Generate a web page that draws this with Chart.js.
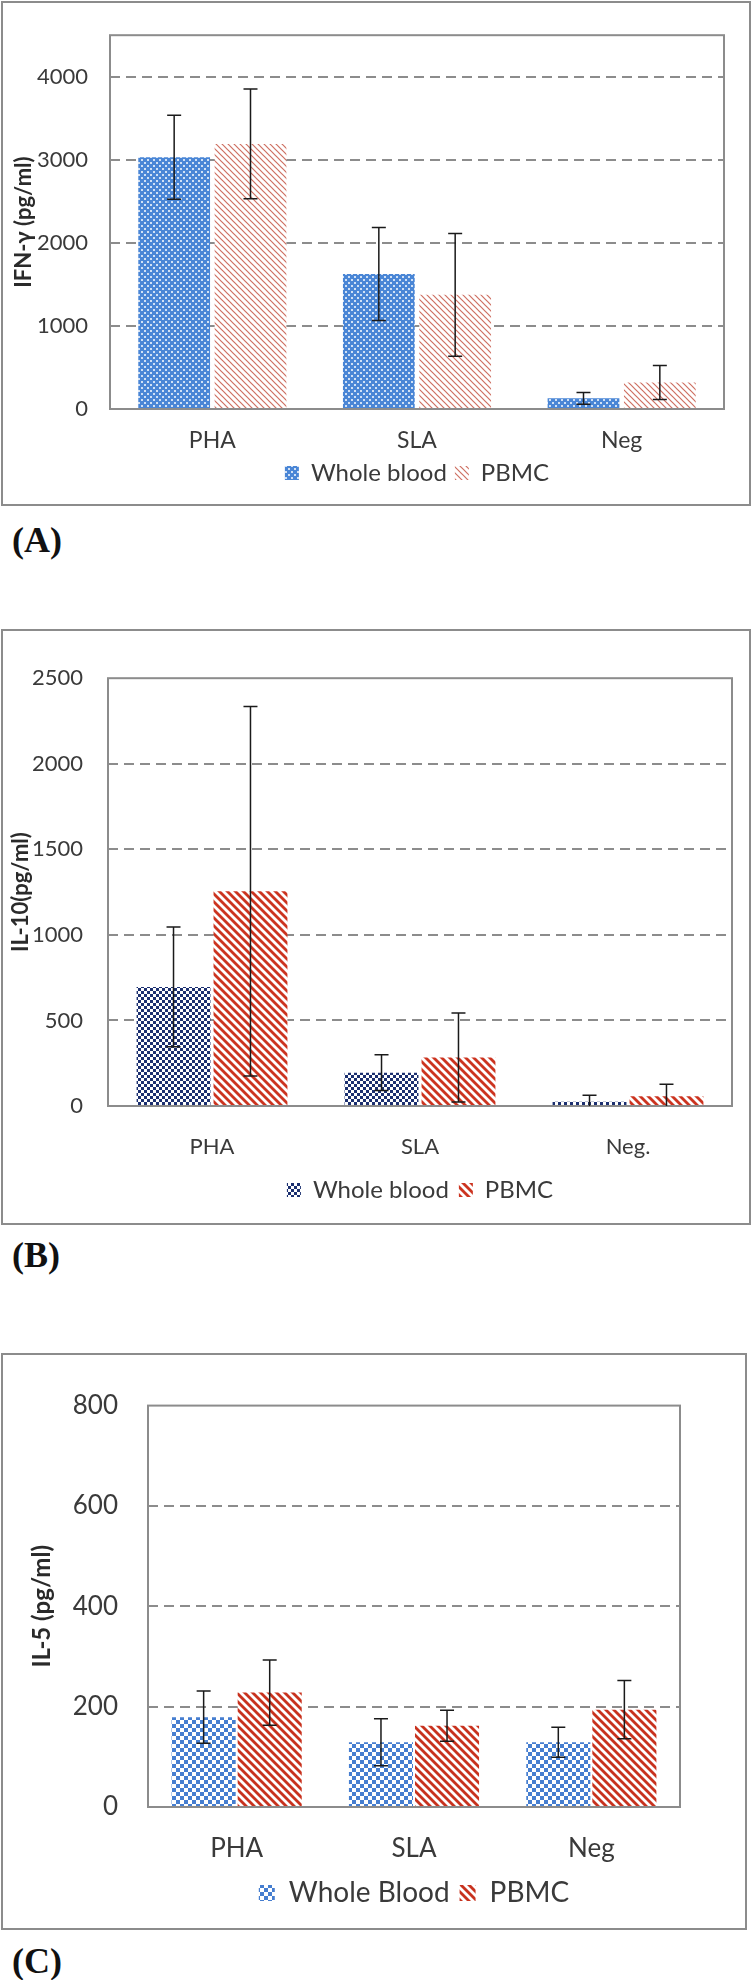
<!DOCTYPE html>
<html><head><meta charset="utf-8">
<script src="https://cdn.jsdelivr.net/npm/chart.js@4.4.1/dist/chart.umd.min.js"></script>
<style>
html,body{margin:0;padding:0;background:#fff;}
body{width:752px;height:1980px;position:relative;overflow:hidden;}
.frame{position:absolute;border:2px solid #8c8c8c;box-sizing:border-box;}
canvas{position:absolute;left:0;}
.lab{position:absolute;left:12px;font-family:"Liberation Serif","Times New Roman",serif;font-weight:bold;font-size:36px;line-height:40px;color:#111;}
</style></head><body>
<div class="frame" style="left:1px;top:1px;width:750px;height:505px"></div>
<div class="frame" style="left:1px;top:629px;width:750px;height:596px"></div>
<div class="frame" style="left:1px;top:1353px;width:746px;height:577px"></div>
<canvas id="cA" width="752" height="500" style="top:0px"></canvas>
<canvas id="cB" width="752" height="580" style="top:640px"></canvas>
<canvas id="cC" width="752" height="565" style="top:1360px"></canvas>
<div class="lab" style="top:520px">(A)</div>
<div class="lab" style="top:1235px">(B)</div>
<div class="lab" style="top:1941px">(C)</div>
<script>
// ---------- data ----------
const categoriesA = ['PHA', 'SLA', 'Neg'];
const categoriesB = ['PHA', 'SLA', 'Neg.'];
const categoriesC = ['PHA', 'SLA', 'Neg'];
const seriesNamesA = ['Whole blood', 'PBMC'];
const seriesNamesB = ['Whole blood', 'PBMC'];
const seriesNamesC = ['Whole Blood', 'PBMC'];

const ifnWhole = [3030, 1626, 128];
const ifnWholeErr = [505, 560, 70];
const ifnPbmc = [3191, 1374, 319];
const ifnPbmcErr = [660, 740, 205];

const il10Whole = [696, 195, 25];
const il10WholeErr = [350, 105, 38];
const il10Pbmc = [1255, 283, 57];
const il10PbmcErr = [1080, 260, 70];

const il5Whole = [179, 129, 129];
const il5WholeErr = [52, 47, 30];
const il5Pbmc = [228, 162, 194];
const il5PbmcErr = [65, 31, 58];

const ticksA = [0, 1000, 2000, 3000, 4000];
const ticksB = [0, 500, 1000, 1500, 2000, 2500];
const ticksC = [0, 200, 400, 600, 800];
const axisMaxA = 4500, axisMaxB = 2500, axisMaxC = 800;

// ---------- patterns ----------
function makePattern(w, h, draw) {
  const c = document.createElement('canvas');
  c.width = w; c.height = h;
  const g = c.getContext('2d');
  draw(g, w, h);
  return g.createPattern(c, 'repeat');
}
function stripes(color, size, lw, bg) {
  return makePattern(size, size, (g, w, h) => {
    g.fillStyle = bg; g.fillRect(0, 0, w, h);
    g.strokeStyle = color; g.lineWidth = lw; g.lineCap = 'square';
    for (const k of [-size, 0, size]) {
      g.beginPath(); g.moveTo(k, 0); g.lineTo(k + size, size); g.stroke();
    }
  });
}
function checker(color, cell) {
  return makePattern(cell * 2, cell * 2, (g) => {
    g.fillStyle = '#ffffff'; g.fillRect(0, 0, cell * 2, cell * 2);
    g.fillStyle = color;
    g.fillRect(0, 0, cell, cell); g.fillRect(cell, cell, cell, cell);
  });
}
const patA_wb = makePattern(6, 6, (g) => {
  g.fillStyle = 'rgb(74,134,214)'; g.fillRect(0, 0, 6, 6);
  g.fillStyle = 'rgba(255,255,255,0.75)';
  g.fillRect(0, 0, 2, 2); g.fillRect(3, 3, 2, 2);
});
const patA_pb = stripes('rgb(206,112,98)', 6, 1.2, '#ffffff');
const patB_wb = checker('rgb(28,48,112)', 3);
const patB_pb = stripes('rgb(204,52,32)', 8, 2.8, '#ffffff');
const patC_wb = checker('rgb(70,126,208)', 4);
const patC_pb = stripes('rgb(200,50,30)', 8, 2.8, '#ffffff');

// ---------- plugins ----------
const frameAndErrors = {
  id: 'frameAndErrors',
  afterDatasetsDraw(chart) {
    const { ctx, chartArea: a } = chart;
    const ys = chart.scales.y;
    ctx.save();
    ctx.strokeStyle = '#8c8c8c'; ctx.lineWidth = 2;
    ctx.strokeRect(a.left, a.top, a.right - a.left, a.bottom - a.top);
    ctx.strokeStyle = '#1a1a1a'; ctx.lineWidth = 1.5;
    chart.data.datasets.forEach((ds, i) => {
      const meta = chart.getDatasetMeta(i);
      meta.data.forEach((bar, j) => {
        const v = ds.data[j], e = ds.errors[j];
        const yT = ys.getPixelForValue(v + e);
        const lo = v - e;
        const yB = ys.getPixelForValue(Math.max(lo, ys.min));
        const x = bar.x, cw = 7;
        ctx.beginPath();
        ctx.moveTo(x, yT); ctx.lineTo(x, yB);
        ctx.moveTo(x - cw, yT); ctx.lineTo(x + cw, yT);
        if (lo > ys.min) { ctx.moveTo(x - cw, yB); ctx.lineTo(x + cw, yB); }
        ctx.stroke();
      });
    });
    ctx.restore();
  }
};

function buildChart(id, L) {
  const gridColor = (c) => (c.tick && (c.tick.value === 0 || c.tick.value >= L.max)) ? 'rgba(0,0,0,0)' : '#8c8c8c';
  return new Chart(document.getElementById(id), {
    type: 'bar',
    data: {
      labels: L.labels,
      datasets: [
        { label: L.names[0], data: L.d1, errors: L.e1, backgroundColor: L.p1, borderWidth: 0,
          categoryPercentage: L.cp, barPercentage: L.bp },
        { label: L.names[1], data: L.d2, errors: L.e2, backgroundColor: L.p2, borderWidth: 0,
          categoryPercentage: L.cp, barPercentage: L.bp }
      ]
    },
    options: {
      responsive: false, animation: false, devicePixelRatio: 1,
      layout: { padding: { left: 0, right: L.padR, top: L.padT, bottom: L.padB } },
      plugins: {
        tooltip: { enabled: false },
        legend: {
          position: 'bottom', fullSize: false,
          labels: { font: { family: 'Lato', size: L.legFont }, color: '#3a3a3a',
                    boxWidth: L.box, boxHeight: L.box, padding: L.legPad }
        }
      },
      scales: {
        x: {
          grid: { display: false, drawTicks: false }, border: { display: false },
          ticks: { color: '#3a3a3a', font: { family: 'Lato', size: L.xFont }, padding: L.xPad,
                   maxRotation: 0, autoSkip: false },
          afterFit(s) { s.height = L.xH; }
        },
        y: {
          min: 0, max: L.max,
          grid: { color: gridColor, lineWidth: 2, drawTicks: false },
          border: { display: false, dash: [10, 6] },
          ticks: { color: '#3a3a3a', font: { family: 'Lato', size: L.yFont }, padding: L.yPad,
                   callback: (v) => String(v) },
          title: { display: true, text: L.title, color: '#2a2a2a',
                   font: { family: 'Lato', size: L.tFont, weight: 'bold' },
                   padding: { top: L.tPad, bottom: 0 } },
          afterBuildTicks(s) { s.ticks = L.ticks.map(v => ({ value: v })); },
          afterFit(s) { s.width = L.yW; }
        }
      }
    },
    plugins: [frameAndErrors]
  });
}

buildChart('cA', {
  labels: categoriesA, names: seriesNamesA,
  d1: ifnWhole, e1: ifnWholeErr, d2: ifnPbmc, e2: ifnPbmcErr,
  p1: patA_wb, p2: patA_pb, cp: 0.746, bp: 0.94,
  max: axisMaxA, ticks: ticksA, title: 'IFN-γ (pg/ml)',
  padR: 28, padT: 31, padB: 5, xH: 44, xPad: 18, xFont: 23,
  yW: 110, yPad: 22, yFont: 22, tFont: 22, tPad: 11, legFont: 24, box: 14, legPad: 8
});
buildChart('cB', {
  labels: categoriesB, names: seriesNamesB,
  d1: il10Whole, e1: il10WholeErr, d2: il10Pbmc, e2: il10PbmcErr,
  p1: patB_wb, p2: patB_pb, cp: 0.74, bp: 0.96,
  max: axisMaxB, ticks: ticksB, title: 'IL-10(pg/ml)',
  padR: 20, padT: 33, padB: 8, xH: 62, xPad: 28, xFont: 22,
  yW: 108, yPad: 25, yFont: 22, tFont: 22, tPad: 8, legFont: 24, box: 14, legPad: 10
});
buildChart('cC', {
  labels: categoriesC, names: seriesNamesC,
  d1: il5Whole, e1: il5WholeErr, d2: il5Pbmc, e2: il5PbmcErr,
  p1: patC_wb, p2: patC_pb, cp: 0.745, bp: 0.97,
  max: axisMaxC, ticks: ticksC, title: 'IL-5 (pg/ml)',
  padR: 72, padT: 39, padB: 8, xH: 62, xPad: 26, xFont: 26,
  yW: 148, yPad: 30, yFont: 26, tFont: 24, tPad: 28, legFont: 28, box: 16, legPad: 10
});
</script>
</body></html>
